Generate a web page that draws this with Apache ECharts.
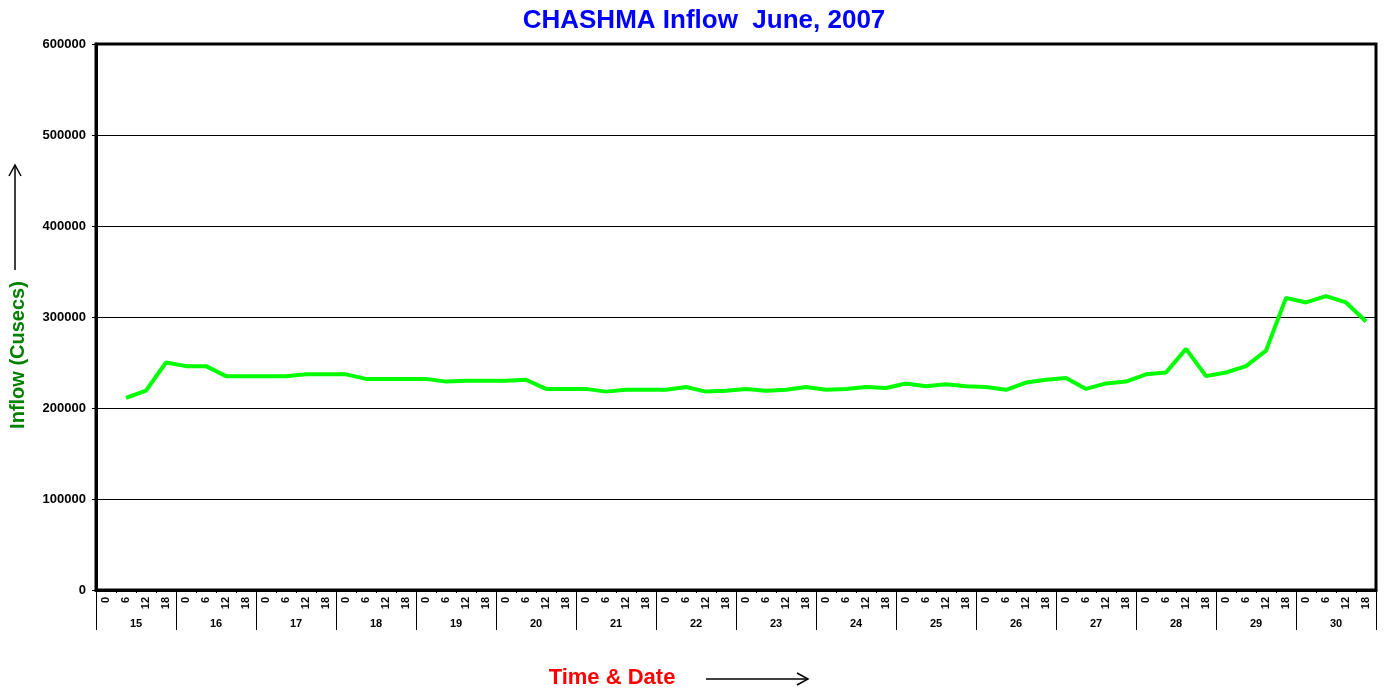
<!DOCTYPE html>
<html>
<head>
<meta charset="utf-8">
<title>CHASHMA Inflow June, 2007</title>
<script src="https://cdn.jsdelivr.net/npm/echarts@6/dist/echarts.min.js"></script>
<style>
  html, body { margin: 0; padding: 0; background: #fff; }
  #chart { width: 1385px; height: 692px; }
</style>
</head>
<body>
<div id="chart"></div>
<script>
// days shown on the lower axis row
const days = ['15', '16', '17', '18', '19', '20', '21', '22', '23', '24', '25', '26', '27', '28', '29', '30']
// hour readings inside each day
const hours = ['0', '6', '12', '18']
// y axis ticks
const yTicks = [0, 100000, 200000, 300000, 400000, 500000, 600000]
// inflow (cusecs), one value per 6-hour slot starting 15th 0h (no reading at 15/0)
const inflow = [
  null, 211000, 219000, 250000,
  246000, 246000, 235000, 235000,
  235000, 235000, 237000, 237000,
  237000, 232000, 232000, 232000,
  232000, 229000, 230000, 230000,
  230000, 231000, 221000, 221000,
  221000, 218000, 220000, 220000,
  220000, 223000, 218000, 219000,
  221000, 219000, 220000, 223000,
  220000, 221000, 223000, 222000,
  227000, 224000, 226000, 224000,
  223000, 220000, 228000, 231000,
  233000, 221000, 227000, 229000,
  237000, 239000, 265000, 235000,
  239000, 246000, 263000, 321000,
  316000, 323000, 316000, 295000
]

const slots = []
days.forEach(function(d) {
  hours.forEach(function(h) { slots.push(h) })
})

const font = 'Liberation Sans'

const option = {
  animation: false,
  title: {
    text: 'CHASHMA Inflow  June, 2007',
    left: 699,
    top: 3,
    textAlign: 'center',
    textStyle: {
      color: '#0000ff',
      fontSize: 26,
      fontWeight: 'bold',
      fontFamily: font
    }
  },
  grid: {
    left: 96,
    right: 9,
    top: 44,
    bottom: 102,
    show: true,
    borderColor: '#000',
    borderWidth: 3,
    containLabel: false
  },
  xAxis: [
    {
      type: 'category',
      data: slots,
      position: 'bottom',
      boundaryGap: true,
      axisLine: { show: true, lineStyle: { color: '#000', width: 3 } },
      axisTick: { show: true, interval: 0, length: 3, lineStyle: { color: '#000' } },
      axisLabel: {
        interval: 0,
        rotate: 90,
        margin: 7,
        color: '#000',
        fontSize: 11,
        fontWeight: 'bold',
        fontFamily: font
      },
      splitLine: { show: false }
    },
    {
      type: 'category',
      data: days,
      position: 'bottom',
      offset: 0,
      boundaryGap: true,
      axisLine: { show: false },
      axisTick: { show: true, interval: 0, length: 40, lineStyle: { color: '#000' } },
      axisLabel: {
        interval: 0,
        margin: 28,
        color: '#000',
        fontSize: 11,
        fontWeight: 'bold',
        fontFamily: font
      },
      splitLine: { show: false }
    }
  ],
  yAxis: {
    type: 'value',
    min: yTicks[0],
    max: yTicks[yTicks.length - 1],
    interval: yTicks[1] - yTicks[0],
    axisLine: { show: true, lineStyle: { color: '#000', width: 3 } },
    axisTick: { show: true, length: 4, lineStyle: { color: '#000' } },
    axisLabel: {
      margin: 10,
      color: '#000',
      fontSize: 13,
      fontWeight: 'bold',
      fontFamily: font,
      formatter: function(v) { return String(v) }
    },
    splitLine: { show: true, lineStyle: { color: '#000', width: 1 } }
  },
  series: [
    {
      name: 'Inflow',
      type: 'line',
      xAxisIndex: 0,
      data: inflow,
      showSymbol: false,
      symbol: 'none',
      lineStyle: { color: '#00ff00', width: 4 },
      connectNulls: false
    }
  ],
  graphic: [
    {
      type: 'text',
      x: 18,
      y: 355,
      rotation: Math.PI / 2,
      style: {
        text: 'Inflow (Cusecs)',
        fill: '#008000',
        font: 'bold 20px ' + font,
        align: 'center',
        verticalAlign: 'middle'
      }
    },
    {
      type: 'line',
      shape: { x1: 15, y1: 270, x2: 15, y2: 165 },
      style: { stroke: '#000', lineWidth: 1.5 }
    },
    {
      type: 'polyline',
      shape: { points: [[9, 176], [15, 165], [21, 176]] },
      style: { stroke: '#000', lineWidth: 1.5, fill: null }
    },
    {
      type: 'text',
      x: 612,
      y: 678,
      style: {
        text: 'Time & Date',
        fill: '#ff0000',
        font: 'bold 22px ' + font,
        align: 'center',
        verticalAlign: 'middle'
      }
    },
    {
      type: 'line',
      shape: { x1: 706, y1: 679, x2: 808, y2: 679 },
      style: { stroke: '#000', lineWidth: 1.5 }
    },
    {
      type: 'polyline',
      shape: { points: [[797, 673], [808, 679], [797, 685]] },
      style: { stroke: '#000', lineWidth: 1.5, fill: null }
    }
  ]
}

const chart = echarts.init(document.getElementById('chart'))
chart.setOption(option)
window.addEventListener('resize', function() {
  chart.resize()
})
</script>
</body>
</html>
